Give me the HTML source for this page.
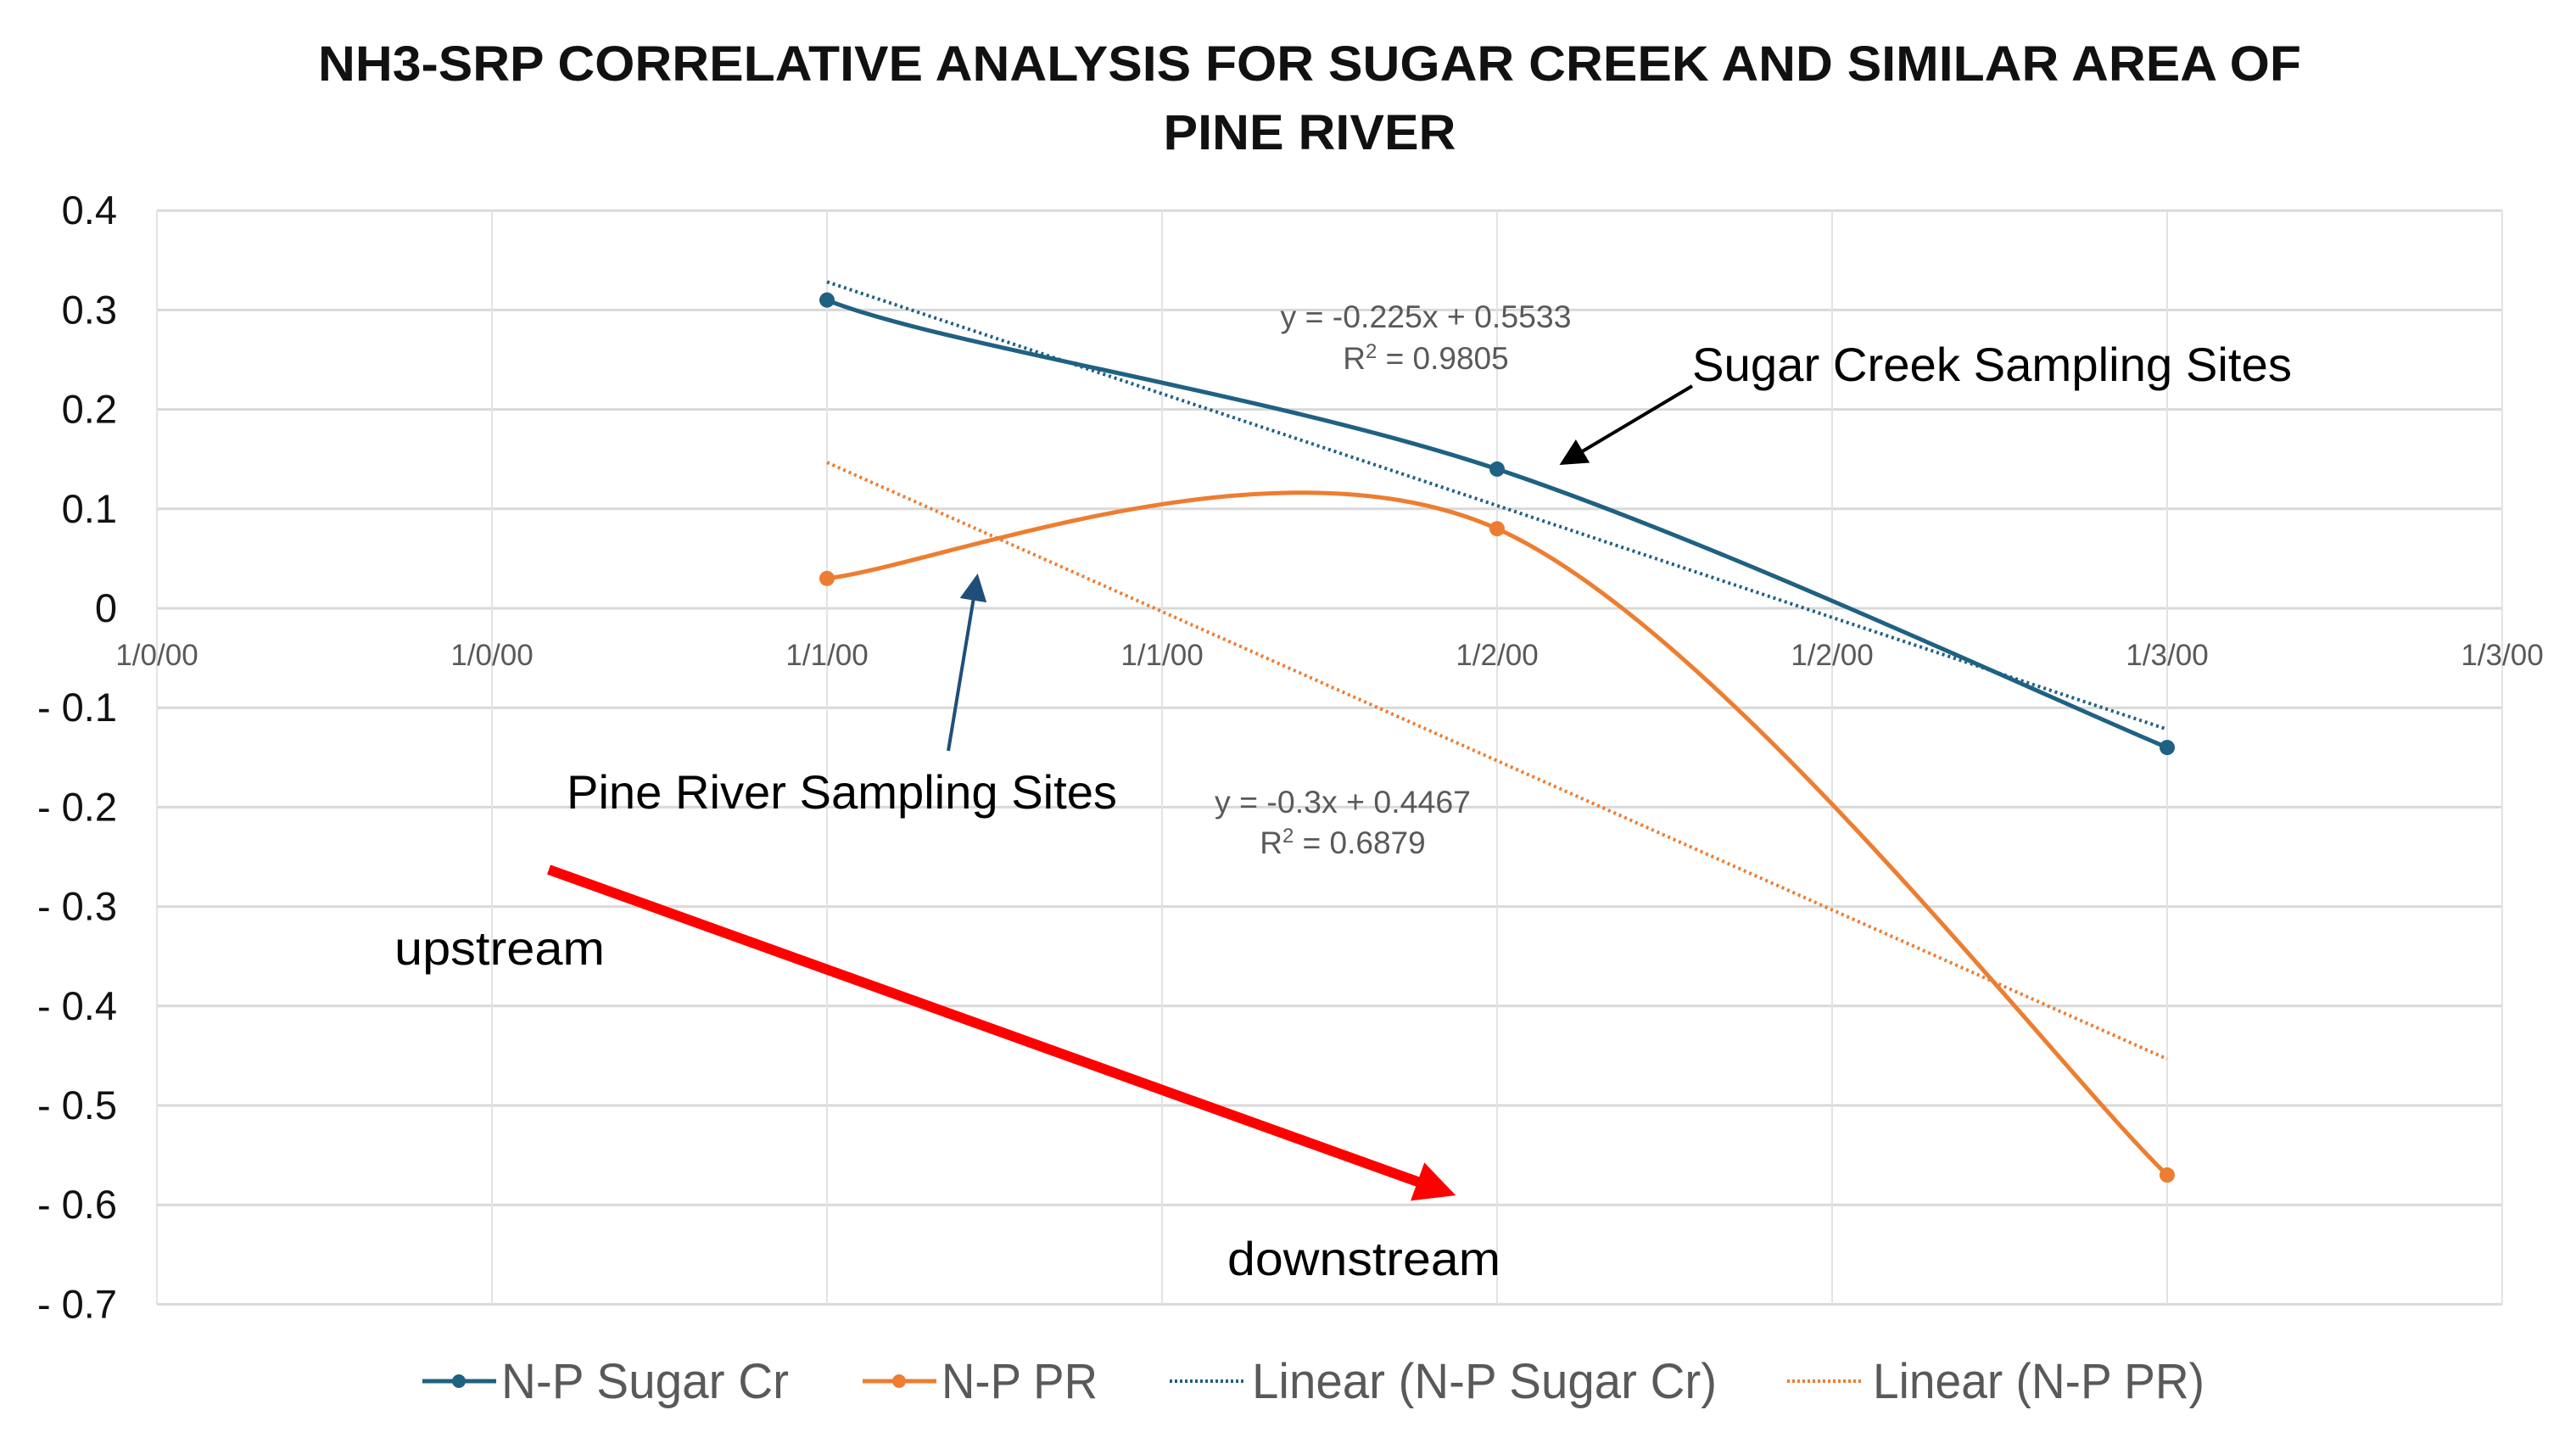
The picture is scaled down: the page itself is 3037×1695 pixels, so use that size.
<!DOCTYPE html>
<html><head><meta charset="utf-8"><style>
html,body{margin:0;padding:0;background:#fff;}
svg{display:block;font-family:"Liberation Sans",sans-serif;}
</style></head><body>
<svg id="chart" width="3037" height="1695" viewBox="0 0 3037 1695" xmlns="http://www.w3.org/2000/svg">
<rect width="3037" height="1695" fill="#fff"/>
<g font-weight="bold" font-size="58" text-anchor="middle" fill="#111">
<text x="1544" y="95" textLength="2338" lengthAdjust="spacingAndGlyphs">NH3-SRP CORRELATIVE ANALYSIS FOR SUGAR CREEK AND SIMILAR AREA OF</text>
<text x="1544" y="176" textLength="345" lengthAdjust="spacingAndGlyphs">PINE RIVER</text>
</g>
<g id="grid"></g>
<g id="yticks"></g>
<g id="xticks"></g>
<g id="series"></g>
<g font-size="37" fill="#595959" text-anchor="middle">
<text x="1681" y="386" textLength="343" lengthAdjust="spacingAndGlyphs">y = -0.225x + 0.5533</text>
<text x="1681" y="435">R<tspan dy="-13" font-size="24">2</tspan><tspan dy="13"> = 0.9805</tspan></text>
</g>
<g font-size="37" fill="#595959" text-anchor="middle">
<text x="1583" y="958" textLength="302" lengthAdjust="spacingAndGlyphs">y = -0.3x + 0.4467</text>
<text x="1583" y="1006">R<tspan dy="-13" font-size="24">2</tspan><tspan dy="13"> = 0.6879</tspan></text>
</g>
<defs>
<marker id="ab" markerWidth="8" markerHeight="8" refX="7" refY="4" orient="auto" markerUnits="strokeWidth"><path d="M0,0 L8,4 L0,8 z" fill="#000"/></marker>
<marker id="abl" markerWidth="8" markerHeight="8" refX="7" refY="4" orient="auto" markerUnits="strokeWidth"><path d="M0,0 L8,4 L0,8 z" fill="#1f4e79"/></marker>
<marker id="ar" markerWidth="4" markerHeight="4" refX="3" refY="2" orient="auto" markerUnits="strokeWidth"><path d="M0,0 L4,2 L0,4 z" fill="#f00"/></marker>
</defs>
<text x="1995" y="449" font-size="56" fill="#000" textLength="707" lengthAdjust="spacingAndGlyphs">Sugar Creek Sampling Sites</text>
<line x1="1995" y1="455" x2="1842" y2="546" stroke="#000" stroke-width="4" marker-end="url(#ab)"/>
<text x="668" y="953" font-size="56" fill="#000" textLength="649" lengthAdjust="spacingAndGlyphs">Pine River Sampling Sites</text>
<line x1="1118" y1="885" x2="1152" y2="680" stroke="#1f4e79" stroke-width="4" marker-end="url(#abl)"/>
<text x="465" y="1137" font-size="56" fill="#000" textLength="248" lengthAdjust="spacingAndGlyphs">upstream</text>
<line x1="647" y1="1025" x2="1705" y2="1405" stroke="#f00" stroke-width="12" marker-end="url(#ar)"/>
<text x="1447" y="1503" font-size="56" fill="#000" textLength="322" lengthAdjust="spacingAndGlyphs">downstream</text>
<g font-size="58" fill="#595959">
<g><line x1="498" y1="1628" x2="585" y2="1628" stroke="#1f6182" stroke-width="5"/><circle cx="541" cy="1628" r="8" fill="#1f6182"/><text x="591" y="1648" textLength="339" lengthAdjust="spacingAndGlyphs">N-P Sugar Cr</text></g>
<g><line x1="1017" y1="1628" x2="1104" y2="1628" stroke="#ed7d31" stroke-width="5"/><circle cx="1060" cy="1628" r="8" fill="#ed7d31"/><text x="1110" y="1648" textLength="184" lengthAdjust="spacingAndGlyphs">N-P PR</text></g>
<g><line x1="1379" y1="1628" x2="1466" y2="1628" stroke="#1f6182" stroke-width="4" stroke-dasharray="3 3"/><text x="1476" y="1648" textLength="548" lengthAdjust="spacingAndGlyphs">Linear (N-P Sugar Cr)</text></g>
<g><line x1="2107" y1="1628" x2="2194" y2="1628" stroke="#ed7d31" stroke-width="4" stroke-dasharray="3 3"/><text x="2208" y="1648" textLength="391" lengthAdjust="spacingAndGlyphs">Linear (N-P PR)</text></g>
</g>
</svg>
<script>
const xTickLabels = ["1/0/00","1/0/00","1/1/00","1/1/00","1/2/00","1/2/00","1/3/00","1/3/00"];
const xTickValues = [0,0.5,1,1.5,2,2.5,3,3.5];
const yTickValues = [0.4,0.3,0.2,0.1,0,-0.1,-0.2,-0.3,-0.4,-0.5,-0.6,-0.7];
const yTickLabels = ["0.4","0.3","0.2","0.1","0","- 0.1","- 0.2","- 0.3","- 0.4","- 0.5","- 0.6","- 0.7"];
const xValues = [1,2,3];
const sugarValues = [0.31,0.14,-0.14];
const prValues = [0.03,0.08,-0.57];
const sugarTrend = [-0.225,0.5533];
const prTrend = [-0.3,0.4467];
const NS="http://www.w3.org/2000/svg";
const L=185,R=2950,Y0=717,PER=1172;
function xs(v){return L+v/3.5*(R-L);}
function ys(v){return Y0-v*PER;}
function mk(tag,attrs,parent){const e=document.createElementNS(NS,tag);for(const k in attrs)e.setAttribute(k,attrs[k]);parent.appendChild(e);return e;}
const grid=document.getElementById('grid'),yt=document.getElementById('yticks'),xt=document.getElementById('xticks'),ser=document.getElementById('series');
yTickValues.forEach((v,i)=>{
  const g=mk('line',{x1:L,x2:R,y1:ys(v),y2:ys(v),stroke:'#d9d9d9','stroke-width':3},grid);
  
  
  const t=mk('text',{x:138,y:ys(v)+16,'font-size':47,'text-anchor':'end',fill:'#111'},yt);
  t.textContent=yTickLabels[i];
  
  
});
xTickValues.forEach((v,i)=>{
  const g=mk('line',{x1:xs(v),x2:xs(v),y1:ys(0.4),y2:ys(-0.7),stroke:'#e3e3e3','stroke-width':2},grid);
  
  
  const t=mk('text',{x:xs(v),y:784,'font-size':35,'text-anchor':'middle',fill:'#595959'},xt);
  t.textContent=xTickLabels[i];
  
  
});
function trend(c,color,name){
  const a=xValues[0],b=xValues[xValues.length-1];
  const l=mk('line',{x1:xs(a),y1:ys(c[0]*a+c[1]),x2:xs(b),y2:ys(c[0]*b+c[1]),stroke:color,'stroke-width':4,'stroke-dasharray':'3 4'},ser);
  
  
}
function smooth(vals,color,name){
  const p=xValues.map((x,i)=>[xs(x),ys(vals[i])]);
  let d='M'+p[0][0]+','+p[0][1];
  const t=0.5;
  for(let i=0;i<p.length-1;i++){
    const p0=p[i-1]||p[i],p1=p[i],p2=p[i+1],p3=p[i+2]||p[i+1];
    const c1=[p1[0]+(p2[0]-p0[0])*t/3,p1[1]+(p2[1]-p0[1])*t/3*(i===0?1.6:1)];
    const c2=[p2[0]-(p3[0]-p1[0])*t/3,p2[1]-(p3[1]-p1[1])*t/3];
    d+=' C'+c1+' '+c2+' '+p2;
  }
  const path=mk('path',{d:d,fill:'none',stroke:color,'stroke-width':5},ser);
  
  
  p.forEach(q=>{
    const c=mk('circle',{cx:q[0],cy:q[1],r:9,fill:color},ser);
    
    
  });
}
trend(sugarTrend,'#1f6182','sugar-trendline');
trend(prTrend,'#ed7d31','pr-trendline');
smooth(sugarValues,'#1f6182','sugar');
smooth(prValues,'#ed7d31','pr');
</script>
</body></html>
